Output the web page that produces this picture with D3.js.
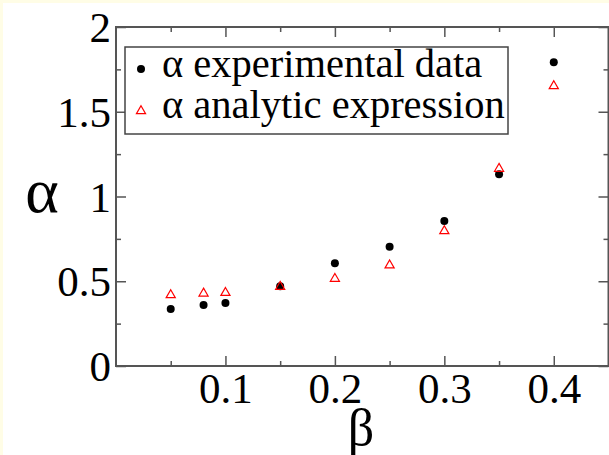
<!DOCTYPE html>
<html>
<head>
<meta charset="utf-8">
<script src="https://cdn.jsdelivr.net/npm/d3@7"></script>
<style>
  html, body { margin: 0; padding: 0; background: #fffde6; }
  svg { display: block; }
</style>
</head>
<body>
<div class="chart-container"></div>
<script>
    'use strict';

    // beta values (x) shared by both series
    var betaVals = [0.05, 0.08, 0.1, 0.15, 0.2, 0.25, 0.3, 0.35, 0.4];
    // alpha measured
    var alphaExp = [0.336, 0.36, 0.372, 0.47, 0.606, 0.704, 0.855, 1.131, 1.792];
    // alpha from analytic expression
    var alphaAnalytic = [0.425, 0.434, 0.438, 0.474, 0.521, 0.6, 0.802, 1.17, 1.658];

    var xMajor = [0.1, 0.2, 0.3, 0.4];
    var xMinor = [0.05, 0.15, 0.25, 0.35];
    var yMajor = [0, 0.5, 1, 1.5, 2];
    var yMinor = [0.25, 0.75, 1.25, 1.75];
    var legendLabels = ['\u03b1 experimental data', '\u03b1 analytic expression'];

    var config = {
        width: 609,
        height: 455,
        left: 116,
        right: 608.5,
        top: 27,
        bottom: 366,
        frame: '#555',
        font: '"Liberation Serif", "Times New Roman", serif'
    };

    var svg = d3.select('.chart-container').append('svg')
        .attr('width', config.width)
        .attr('height', config.height);

    // white sheet over the pale yellow page
    svg.append('rect')
        .attr('x', 3).attr('y', 3)
        .attr('width', config.width).attr('height', config.height)
        .style('fill', '#fff');

    var x = d3.scaleLinear().domain([0, 0.45]).range([config.left, config.right]);
    var y = d3.scaleLinear().domain([0, 2]).range([config.bottom, config.top]);

    function styleAxis(g){
        g.attr('font-family', config.font);
        g.select('.domain').remove();
        g.selectAll('line').style('stroke', config.frame).style('stroke-width', 1.5);
        g.selectAll('text').style('fill', '#000');
    }

    // ticks on all four sides, pointing inward
    svg.append('g')
        .attr('transform', 'translate(0,' + config.bottom + ')')
        .call(d3.axisBottom(x).tickValues(xMajor).tickSize(-10)
            .tickFormat(d3.format('.1f')))
        .call(styleAxis)
        .call(function(g){
            g.selectAll('text').attr('font-size', 43).attr('y', 6).attr('dy', '0.71em');
        });
    svg.append('g')
        .attr('transform', 'translate(0,' + config.bottom + ')')
        .call(d3.axisBottom(x).tickValues(xMinor).tickSize(-5).tickFormat(''))
        .call(styleAxis);
    svg.append('g')
        .attr('transform', 'translate(0,' + config.top + ')')
        .call(d3.axisTop(x).tickValues(xMajor).tickSize(-10).tickFormat(''))
        .call(styleAxis);
    svg.append('g')
        .attr('transform', 'translate(0,' + config.top + ')')
        .call(d3.axisTop(x).tickValues(xMinor).tickSize(-5).tickFormat(''))
        .call(styleAxis);

    svg.append('g')
        .attr('transform', 'translate(' + config.left + ',0)')
        .call(d3.axisLeft(y).tickValues(yMajor).tickSize(-10)
            .tickFormat(function(d){ return d === 0 ? '0' : d3.format('~g')(d); }))
        .call(styleAxis)
        .call(function(g){
            g.selectAll('text').attr('font-size', 43).attr('x', -5).attr('dy', '0.34em');
        });
    svg.append('g')
        .attr('transform', 'translate(' + config.left + ',0)')
        .call(d3.axisLeft(y).tickValues(yMinor).tickSize(-5).tickFormat(''))
        .call(styleAxis);
    svg.append('g')
        .attr('transform', 'translate(' + config.right + ',0)')
        .call(d3.axisRight(y).tickValues(yMajor).tickSize(-10).tickFormat(''))
        .call(styleAxis);
    svg.append('g')
        .attr('transform', 'translate(' + config.right + ',0)')
        .call(d3.axisRight(y).tickValues(yMinor).tickSize(-5).tickFormat(''))
        .call(styleAxis);

    // frame
    svg.append('rect')
        .attr('x', config.left).attr('y', config.top)
        .attr('width', config.right - config.left)
        .attr('height', config.bottom - config.top)
        .style('fill', 'none')
        .style('stroke', config.frame)
        .style('stroke-width', 2);

    // axis titles
    svg.append('text')
        .attr('x', 42).attr('y', 196)
        .attr('dy', '0.25em')
        .attr('text-anchor', 'middle')
        .attr('font-family', config.font)
        .attr('font-size', 64)
        .text('\u03b1');
    svg.append('text')
        .attr('x', 361).attr('y', 445)
        .attr('text-anchor', 'middle')
        .attr('font-family', config.font)
        .attr('font-size', 52)
        .text('\u03b2');

    var pts = betaVals.map(function(b, i){
        return {b: b, exp: alphaExp[i], an: alphaAnalytic[i]};
    });

    var tri = d3.symbol().type(d3.symbolTriangle).size(36);

    svg.append('g').selectAll('circle')
        .data(pts)
        .join('circle')
        .attr('cx', function(d){ return x(d.b); })
        .attr('cy', function(d){ return y(d.exp); })
        .attr('r', 4)
        .style('fill', '#000');

    svg.append('g').selectAll('path')
        .data(pts)
        .join('path')
        .attr('d', tri)
        .attr('transform', function(d){ return 'translate(' + x(d.b) + ',' + (y(d.an) + 1) + ')'; })
        .style('fill', 'none')
        .style('stroke', '#f00')
        .style('stroke-width', 1.2);

    // legend
    var legend = svg.append('g');
    legend.append('rect')
        .attr('x', 125).attr('y', 47)
        .attr('width', 383).attr('height', 87)
        .style('fill', '#fff')
        .style('stroke', '#444')
        .style('stroke-width', 1.5);
    legend.append('circle')
        .attr('cx', 141).attr('cy', 69).attr('r', 4)
        .style('fill', '#000');
    legend.append('path')
        .attr('d', tri)
        .attr('transform', 'translate(141,111)')
        .style('fill', 'none')
        .style('stroke', '#f00')
        .style('stroke-width', 1.2);
    legend.selectAll('text')
        .data(legendLabels)
        .join('text')
        .attr('x', 162)
        .attr('y', function(d, i){ return 77 + i * 41; })
        .attr('font-family', config.font)
        .attr('font-size', 40.5)
        .text(function(d){ return d; });
</script>
</body>
</html>
